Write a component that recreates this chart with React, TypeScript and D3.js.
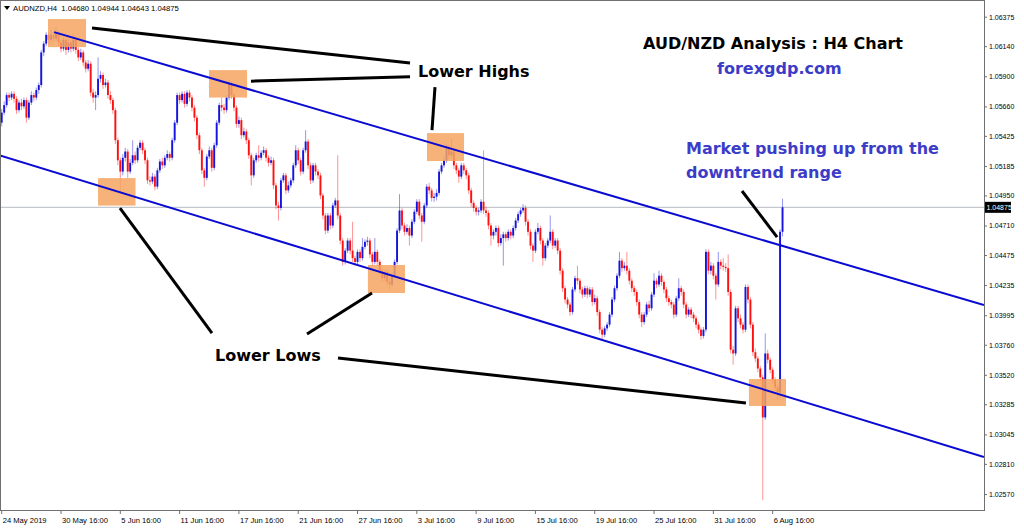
import React from 'react';
import * as d3 from 'd3';

// ---- data: AUDNZD H4 candles (open of each bar = previous close) ----
const symbol = 'AUDNZD,H4';
const firstOpen = 1.0555;
const closes = [
  1.0563, 1.0569, 1.0577, 1.0575, 1.0578, 1.0574, 1.0565, 1.0571, 1.0568, 1.0573,
  1.0559, 1.0571, 1.0577, 1.0575, 1.0581, 1.0585, 1.0611, 1.0618, 1.0625, 1.0621,
  1.0625, 1.0622, 1.0627, 1.0619, 1.0614, 1.0621, 1.0613, 1.0619, 1.0614, 1.0621,
  1.0613, 1.0607, 1.0611, 1.0603, 1.0598, 1.0602, 1.0579, 1.0575, 1.0577, 1.0590,
  1.0593, 1.0585, 1.0587, 1.0577, 1.0573, 1.0565, 1.0541, 1.0525, 1.0516, 1.0527,
  1.0532, 1.0516, 1.0523, 1.0529, 1.0525, 1.0535, 1.0539, 1.0533, 1.0525, 1.0509,
  1.0508, 1.0512, 1.0504, 1.0517, 1.0524, 1.0521, 1.0527, 1.0530, 1.0527, 1.0541,
  1.0555, 1.0577, 1.0573, 1.0578, 1.0570, 1.0579, 1.0575, 1.0567, 1.0559, 1.0545,
  1.0533, 1.0517, 1.0511, 1.0528, 1.0533, 1.0519, 1.0537, 1.0555, 1.0569, 1.0567,
  1.0565, 1.0575, 1.0586, 1.0577, 1.0567, 1.0554, 1.0557, 1.0545, 1.0548, 1.0541,
  1.0529, 1.0513, 1.0525, 1.0529, 1.0527, 1.0531, 1.0533, 1.0527, 1.0523, 1.0525,
  1.0505, 1.0489, 1.0487, 1.0509, 1.0513, 1.0501, 1.0505, 1.0509, 1.0521, 1.0533,
  1.0525, 1.0516, 1.0533, 1.0540, 1.0521, 1.0509, 1.0521, 1.0516, 1.0513, 1.0497,
  1.0481, 1.0469, 1.0481, 1.0473, 1.0489, 1.0493, 1.0481, 1.0461, 1.0444, 1.0453,
  1.0461, 1.0453, 1.0447, 1.0444, 1.0452, 1.0447, 1.0456, 1.0460, 1.0461, 1.0450,
  1.0444, 1.0452, 1.0444, 1.0437, 1.0431, 1.0436, 1.0428, 1.0426, 1.0433, 1.0444,
  1.0469, 1.0485, 1.0473, 1.0468, 1.0471, 1.0465, 1.0476, 1.0484, 1.0492, 1.0481,
  1.0476, 1.0489, 1.0504, 1.0501, 1.0495, 1.0496, 1.0499, 1.0516, 1.0521, 1.0525,
  1.0535, 1.0529, 1.0532, 1.0521, 1.0517, 1.0512, 1.0521, 1.0517, 1.0513, 1.0501,
  1.0491, 1.0487, 1.0484, 1.0485, 1.0492, 1.0485, 1.0483, 1.0473, 1.0465, 1.0468,
  1.0471, 1.0459, 1.0463, 1.0466, 1.0463, 1.0468, 1.0465, 1.0471, 1.0477, 1.0482,
  1.0485, 1.0487, 1.0476, 1.0468, 1.0457, 1.0453, 1.0468, 1.0471, 1.0461, 1.0447,
  1.0457, 1.0461, 1.0468, 1.0457, 1.0461, 1.0453, 1.0437, 1.0423, 1.0414, 1.0410,
  1.0404, 1.0422, 1.0431, 1.0429, 1.0422, 1.0418, 1.0423, 1.0418, 1.0422, 1.0412,
  1.0415, 1.0404, 1.0390, 1.0386, 1.0391, 1.0394, 1.0402, 1.0414, 1.0423, 1.0433,
  1.0445, 1.0439, 1.0441, 1.0437, 1.0429, 1.0423, 1.0420, 1.0412, 1.0402, 1.0396,
  1.0402, 1.0410, 1.0407, 1.0418, 1.0429, 1.0426, 1.0433, 1.0428, 1.0422, 1.0415,
  1.0412, 1.0410, 1.0402, 1.0415, 1.0423, 1.0420, 1.0410, 1.0402, 1.0406, 1.0402,
  1.0399, 1.0394, 1.0390, 1.0385, 1.0390, 1.0452, 1.0437, 1.0441, 1.0433, 1.0426,
  1.0444, 1.0441, 1.0440, 1.0439, 1.0420, 1.0374, 1.0371, 1.0407, 1.0399, 1.0394,
  1.0390, 1.0424, 1.0414, 1.0394, 1.0372, 1.0367, 1.0359, 1.0352, 1.0320, 1.0371,
  1.0366, 1.0358, 1.0350, 1.0344, 1.0340, 1.0468, 1.04875,
];
const highs = [
  1.0566, 1.0572, 1.0579, 1.0579, 1.0580, 1.0580, 1.0576, 1.0573, 1.0574, 1.0575,
  1.0575, 1.0573, 1.0580, 1.0579, 1.0583, 1.0587, 1.0613, 1.0620, 1.0627, 1.0627,
  1.0629, 1.0627, 1.0631, 1.0629, 1.0621, 1.0623, 1.0623, 1.0622, 1.0621, 1.0626,
  1.0623, 1.0615, 1.0614, 1.0613, 1.0605, 1.0605, 1.0604, 1.0582, 1.0580, 1.0607,
  1.0596, 1.0595, 1.0590, 1.0589, 1.0580, 1.0575, 1.0567, 1.0543, 1.0527, 1.0530,
  1.0535, 1.0534, 1.0526, 1.0541, 1.0532, 1.0537, 1.0541, 1.0541, 1.0535, 1.0527,
  1.0512, 1.0515, 1.0514, 1.0519, 1.0526, 1.0527, 1.0529, 1.0533, 1.0532, 1.0543,
  1.0557, 1.0579, 1.0579, 1.0580, 1.0580, 1.0581, 1.0581, 1.0577, 1.0569, 1.0561,
  1.0547, 1.0535, 1.0519, 1.0530, 1.0536, 1.0535, 1.0539, 1.0557, 1.0571, 1.0575,
  1.0570, 1.0577, 1.0589, 1.0588, 1.0579, 1.0569, 1.0560, 1.0559, 1.0551, 1.0550,
  1.0543, 1.0531, 1.0527, 1.0531, 1.0537, 1.0533, 1.0536, 1.0535, 1.0529, 1.0528,
  1.0527, 1.0507, 1.0492, 1.0511, 1.0515, 1.0515, 1.0508, 1.0511, 1.0523, 1.0537,
  1.0535, 1.0527, 1.0535, 1.0549, 1.0542, 1.0523, 1.0523, 1.0523, 1.0518, 1.0515,
  1.0499, 1.0483, 1.0483, 1.0483, 1.0491, 1.0495, 1.0529, 1.0483, 1.0463, 1.0455,
  1.0463, 1.0463, 1.0476, 1.0449, 1.0454, 1.0454, 1.0463, 1.0462, 1.0464, 1.0463,
  1.0452, 1.0463, 1.0454, 1.0446, 1.0439, 1.0438, 1.0438, 1.0431, 1.0435, 1.0446,
  1.0471, 1.0498, 1.0487, 1.0475, 1.0474, 1.0473, 1.0478, 1.0486, 1.0494, 1.0494,
  1.0483, 1.0491, 1.0506, 1.0507, 1.0503, 1.0499, 1.0502, 1.0518, 1.0523, 1.0528,
  1.0538, 1.0537, 1.0542, 1.0534, 1.0523, 1.0519, 1.0523, 1.0523, 1.0519, 1.0515,
  1.0503, 1.0493, 1.0489, 1.0487, 1.0494, 1.0533, 1.0488, 1.0485, 1.0475, 1.0470,
  1.0473, 1.0473, 1.0466, 1.0468, 1.0468, 1.0470, 1.0470, 1.0473, 1.0479, 1.0484,
  1.0487, 1.0490, 1.0489, 1.0478, 1.0470, 1.0459, 1.0470, 1.0475, 1.0473, 1.0463,
  1.0459, 1.0463, 1.0481, 1.0470, 1.0463, 1.0463, 1.0455, 1.0439, 1.0425, 1.0416,
  1.0412, 1.0424, 1.0433, 1.0441, 1.0431, 1.0424, 1.0425, 1.0425, 1.0424, 1.0424,
  1.0418, 1.0417, 1.0406, 1.0392, 1.0393, 1.0396, 1.0404, 1.0416, 1.0425, 1.0435,
  1.0452, 1.0447, 1.0444, 1.0452, 1.0439, 1.0431, 1.0425, 1.0422, 1.0414, 1.0404,
  1.0404, 1.0412, 1.0413, 1.0420, 1.0435, 1.0431, 1.0437, 1.0435, 1.0430, 1.0424,
  1.0417, 1.0414, 1.0412, 1.0417, 1.0431, 1.0425, 1.0422, 1.0412, 1.0408, 1.0408,
  1.0404, 1.0401, 1.0396, 1.0392, 1.0392, 1.0454, 1.0454, 1.0444, 1.0443, 1.0435,
  1.0452, 1.0446, 1.0447, 1.0443, 1.0450, 1.0422, 1.0377, 1.0409, 1.0409, 1.0402,
  1.0396, 1.0426, 1.0426, 1.0416, 1.0396, 1.0375, 1.0369, 1.0361, 1.0354, 1.0387,
  1.0374, 1.0368, 1.0360, 1.0352, 1.0346, 1.0470, 1.04944,
];
const lows = [
  1.0552, 1.0561, 1.0567, 1.0572, 1.0573, 1.0571, 1.0562, 1.0563, 1.0565, 1.0566,
  1.0555, 1.0557, 1.0569, 1.0572, 1.0573, 1.0578, 1.0583, 1.0608, 1.0616, 1.0617,
  1.0618, 1.0619, 1.0620, 1.0616, 1.0611, 1.0612, 1.0609, 1.0611, 1.0611, 1.0612,
  1.0610, 1.0604, 1.0605, 1.0600, 1.0595, 1.0596, 1.0576, 1.0571, 1.0565, 1.0575,
  1.0587, 1.0582, 1.0583, 1.0574, 1.0570, 1.0562, 1.0538, 1.0521, 1.0499, 1.0513,
  1.0524, 1.0511, 1.0514, 1.0521, 1.0522, 1.0523, 1.0533, 1.0530, 1.0522, 1.0506,
  1.0505, 1.0506, 1.0501, 1.0502, 1.0515, 1.0518, 1.0519, 1.0525, 1.0524, 1.0525,
  1.0539, 1.0553, 1.0570, 1.0571, 1.0567, 1.0568, 1.0572, 1.0564, 1.0556, 1.0542,
  1.0530, 1.0514, 1.0504, 1.0509, 1.0526, 1.0516, 1.0517, 1.0535, 1.0553, 1.0564,
  1.0562, 1.0563, 1.0573, 1.0574, 1.0564, 1.0551, 1.0551, 1.0542, 1.0543, 1.0538,
  1.0526, 1.0505, 1.0511, 1.0523, 1.0524, 1.0525, 1.0529, 1.0524, 1.0520, 1.0521,
  1.0502, 1.0486, 1.0477, 1.0485, 1.0507, 1.0498, 1.0499, 1.0503, 1.0507, 1.0519,
  1.0522, 1.0513, 1.0514, 1.0531, 1.0518, 1.0506, 1.0507, 1.0513, 1.0510, 1.0494,
  1.0478, 1.0466, 1.0467, 1.0470, 1.0471, 1.0487, 1.0478, 1.0458, 1.0441, 1.0442,
  1.0451, 1.0450, 1.0444, 1.0441, 1.0442, 1.0444, 1.0445, 1.0454, 1.0457, 1.0447,
  1.0441, 1.0442, 1.0441, 1.0434, 1.0428, 1.0429, 1.0425, 1.0422, 1.0424, 1.0431,
  1.0442, 1.0467, 1.0470, 1.0465, 1.0466, 1.0457, 1.0463, 1.0474, 1.0482, 1.0478,
  1.0460, 1.0474, 1.0487, 1.0498, 1.0492, 1.0492, 1.0493, 1.0497, 1.0514, 1.0519,
  1.0523, 1.0526, 1.0527, 1.0518, 1.0514, 1.0507, 1.0510, 1.0514, 1.0510, 1.0498,
  1.0488, 1.0484, 1.0481, 1.0481, 1.0483, 1.0482, 1.0480, 1.0470, 1.0457, 1.0462,
  1.0465, 1.0456, 1.0457, 1.0441, 1.0460, 1.0461, 1.0462, 1.0463, 1.0469, 1.0475,
  1.0480, 1.0483, 1.0473, 1.0465, 1.0454, 1.0444, 1.0451, 1.0466, 1.0458, 1.0441,
  1.0445, 1.0455, 1.0459, 1.0454, 1.0455, 1.0450, 1.0434, 1.0420, 1.0411, 1.0407,
  1.0401, 1.0402, 1.0420, 1.0426, 1.0419, 1.0415, 1.0416, 1.0415, 1.0416, 1.0409,
  1.0410, 1.0401, 1.0387, 1.0382, 1.0384, 1.0389, 1.0392, 1.0400, 1.0412, 1.0421,
  1.0431, 1.0436, 1.0437, 1.0434, 1.0426, 1.0420, 1.0417, 1.0409, 1.0399, 1.0392,
  1.0394, 1.0400, 1.0404, 1.0405, 1.0416, 1.0423, 1.0424, 1.0425, 1.0419, 1.0412,
  1.0409, 1.0407, 1.0399, 1.0400, 1.0413, 1.0417, 1.0407, 1.0399, 1.0400, 1.0399,
  1.0396, 1.0391, 1.0387, 1.0382, 1.0383, 1.0388, 1.0434, 1.0434, 1.0430, 1.0414,
  1.0424, 1.0438, 1.0437, 1.0436, 1.0417, 1.0371, 1.0362, 1.0369, 1.0396, 1.0391,
  1.0387, 1.0388, 1.0411, 1.0391, 1.0369, 1.0364, 1.0356, 1.0349, 1.0254, 1.0318,
  1.0363, 1.0355, 1.0347, 1.0341, 1.0334, 1.0336, 1.04643,
];

const priceTicks = [
  1.06375, 1.0614, 1.059, 1.0566, 1.05425, 1.05185, 1.0495, 1.0471, 1.04475,
  1.04235, 1.03995, 1.0376, 1.0352, 1.03285, 1.03045, 1.0281, 1.0257,
];
const dateLabels = [
  '24 May 2019', '30 May 16:00', '5 Jun 16:00', '11 Jun 16:00', '17 Jun 16:00',
  '21 Jun 16:00', '27 Jun 16:00', '3 Jul 16:00', '9 Jul 16:00', '15 Jul 16:00',
  '19 Jul 16:00', '25 Jul 16:00', '31 Jul 16:00', '6 Aug 16:00',
];
const barsPerDateLabel = 24;

// annotation geometry in (bar index, price) terms
const channelUpper = [[21.2, 1.06272], [397.5, 1.04096]];
const channelLower = [[-0.7, 1.05288], [397.5, 1.02885]];
const zoneBoxes = [
  [18.74, 34.12, 1.06376, 1.06152],
  [83.9, 99.3, 1.05969, 1.0575],
  [39.0, 54.15, 1.05108, 1.04889],
  [172.1, 187.1, 1.05467, 1.05244],
  [148.2, 163.2, 1.04415, 1.04192],
  [302.4, 317.4, 1.03506, 1.03291],
];
const pointerLines = [
  [[36.55, 1.06304], [165.24, 1.06025]],
  [[100.89, 1.05881], [165.24, 1.05917]],
  [[174.14, 1.05491], [175.35, 1.05834]],
  [[47.87, 1.04869], [85.1, 1.03873]],
  [[123.56, 1.03865], [149.86, 1.04192]],
  [[136.1, 1.03674], [301.2, 1.03315]],
  [[299.6, 1.05005], [313.8, 1.04638]],
];

export default function App() {
  const W = 1024;
  const H = 528;
  const plotRight = 984;
  const plotBottom = 510;
  const n = closes.length;
  const x = d3.scaleLinear().domain([0, n - 1]).range([1.7, 1.7 + (n - 1) * 2.471]);
  const y = d3.scaleLinear().domain([1.02462, 1.06512]).range([plotBottom, 2]);
  const opens = closes.map((c, i) => (i === 0 ? firstOpen : closes[i - 1]));
  const last = n - 1;
  const lastClose = closes[last];
  const fmt = (v: number) => v.toFixed(5);
  const header = `${symbol}  ${fmt(opens[last])} ${fmt(highs[last])} ${fmt(lows[last])} ${fmt(lastClose)}`;
  const line = d3.line<number[]>().x((d) => x(d[0])).y((d) => y(d[1]));

  const BLUE = '#1414dc';
  const RED = '#ff1010';
  const fam = 'Tahoma, "Liberation Sans", Arial, sans-serif';
  const headerFont = { fontFamily: fam, fontSize: 7.7 } as const;
  const dateFont = { fontFamily: fam, fontSize: 7.6 } as const;
  const priceFont = { fontFamily: fam, fontSize: 7.0 } as const;
  const big = { fontFamily: '"DejaVu Sans", Verdana, sans-serif', fontSize: 16, fontWeight: 'bold' } as const;

  return (
    <svg width={W} height={H} style={{ position: 'absolute', left: 0, top: 0, background: '#fff' }}>
      <defs>
        <clipPath id="plot">
          <rect x={0} y={0} width={plotRight} height={plotBottom} />
        </clipPath>
      </defs>
      <rect x={0} y={0} width={W} height={H} fill="#fff" />
      {/* bid line */}
      <line x1={0} x2={plotRight} y1={y(lastClose)} y2={y(lastClose)} stroke="#c4c8cc" strokeWidth={1.2} />
      {/* candles */}
      <g clipPath="url(#plot)">
        {closes.map((c, i) => {
          const o = opens[i];
          const up = c >= o;
          const col = up ? BLUE : RED;
          const top = y(Math.max(o, c));
          const h = Math.max(1, Math.abs(y(o) - y(c)));
          return (
            <g key={i}>
              <line x1={x(i)} x2={x(i)} y1={y(highs[i])} y2={y(lows[i])} stroke={col} strokeOpacity={0.45} strokeWidth={1} />
              <rect x={x(i) - 0.95} width={1.9} y={top} height={h} fill={col} />
            </g>
          );
        })}
      </g>
      {/* zones */}
      {zoneBoxes.map((b, i) => (
        <rect key={i} x={x(b[0])} y={y(b[2])} width={x(b[1]) - x(b[0])} height={y(b[3]) - y(b[2])}
          fill="#f4a460" fillOpacity={0.85} />
      ))}
      {/* channel */}
      <g clipPath="url(#plot)">
        <path d={line(channelUpper) || ''} stroke="#0a0ad2" strokeWidth={2} fill="none" />
        <path d={line(channelLower) || ''} stroke="#0a0ad2" strokeWidth={2} fill="none" />
      </g>
      {/* pointer lines */}
      {pointerLines.map((l, i) => (
        <path key={i} d={line(l) || ''} stroke="#000" strokeWidth={3} fill="none" />
      ))}
      {/* annotations */}
      <text x={643} y={49} {...big} fill="#000">AUD/NZD Analysis : H4 Chart</text>
      <text x={717} y={74} {...big} fill="#3c3cc8">forexgdp.com</text>
      <text x={686} y={154} {...big} fill="#3c3cc8">Market pushing up from the</text>
      <text x={686} y={178} {...big} fill="#3c3cc8">downtrend range</text>
      <text x={418} y={77} {...big} fill="#000">Lower Highs</text>
      <text x={215} y={361} {...big} fill="#000">Lower Lows</text>
      {/* header */}
      <path d="M4,6 L10,6 L7,10 Z" fill="#000" />
      <text x={13} y={10.8} {...headerFont} fill="#000" style={{ whiteSpace: 'pre' }}>{header}</text>
      {/* frame */}
      <rect x={0.5} y={0.5} width={plotRight} height={plotBottom} fill="none" stroke="#707070" strokeWidth={1} />
      {/* price axis */}
      {priceTicks.map((p) => (
        <g key={p}>
          <line x1={plotRight} x2={plotRight + 3} y1={y(p) - 2} y2={y(p) - 2} stroke="#707070" />
          <text x={989} y={y(p) - 2} dy="0.35em" {...priceFont} fill="#000">{fmt(p)}</text>
        </g>
      ))}
      <rect x={985} y={y(lastClose) - 5.5} width={26} height={11} fill="#000" />
      <text x={986.5} y={y(lastClose)} dy="0.35em" {...priceFont} fill="#fff">{fmt(lastClose)}</text>
      {/* time axis */}
      {dateLabels.map((d, k) => {
        const xi = x(k * barsPerDateLabel);
        return (
          <g key={d}>
            <line x1={xi} x2={xi} y1={plotBottom} y2={plotBottom + 4} stroke="#707070" />
            <text x={xi + 1} y={522.5} {...dateFont} fill="#000">{d}</text>
          </g>
        );
      })}
    </svg>
  );
}
